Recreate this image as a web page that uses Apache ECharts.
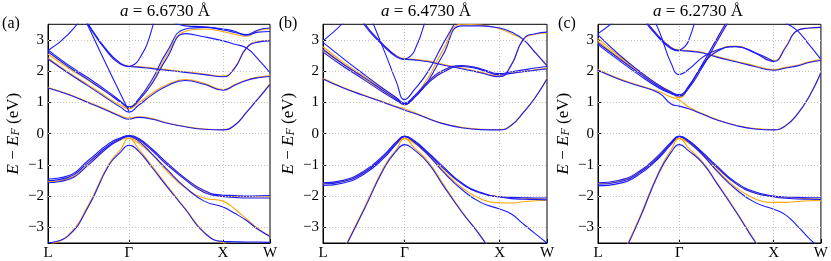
<!DOCTYPE html>
<html><head><meta charset="utf-8">
<script src="https://cdn.jsdelivr.net/npm/echarts@6/dist/echarts.min.js"></script>
<style>html,body{margin:0;padding:0;background:#fff}#c{width:831px;height:261px}</style>
</head><body><div id="c"></div>
<script>
// ---- k-path and ticks ----
const kLabels = ['L', 'Γ', 'X', 'W'];
const kTicks = [0, 0.86, 1.86, 2.36];
const kSamples = [0, 0.215, 0.43, 0.645, 0.774, 0.86, 0.96, 1.11, 1.26, 1.46, 1.66, 1.86, 1.985, 2.11, 2.235, 2.36];
const energyTicks = [-3, -2, -1, 0, 1, 2, 3];
const latticeA = ['6.6730', '6.4730', '6.2730'];
const panelTags = ['(a)', '(b)', '(c)'];
const _ = '-';

// ---- panel (a) ----
const aV1 = [-1.45,-1.35,-0.85,-0.32,-0.13,-0.06,-0.15,-0.5,-0.92,-1.43,-1.82,-1.97,-1.98,-2.0,-1.99,-1.98];
const aV2 = [-1.5,-1.4,-0.92,-0.37,-0.15,-0.08,-0.18,-0.55,-0.98,-1.48,-1.88,-2.01,-2.04,-2.06,-2.06,-2.06];
const aV3 = [-1.57,-1.47,-1.0,-0.42,-0.18,-0.09,-0.23,-0.66,-1.13,-1.72,-2.16,-2.35,-2.55,-2.78,-3.07,-3.29];
const aV4 = [-3.49,-3.27,-2.33,-1.02,-0.58,-0.37,-0.55,-1.1,-1.68,-2.42,-3.17,-3.45,-3.46,-3.47,-3.47,-3.48];
const aO1 = [-1.54,-1.44,-0.96,-0.4,-0.2,-0.14,-0.2,-0.55,-0.96,-1.46,-1.85,-2.0,-2.01,-2.02,-2.02,-2.02];
const aO2 = [_,_,_,_,_,-0.14,-0.29,-0.68,-1.19,-1.74,-2.06,-2.16,-2.41,-2.73,-3.04,-3.27];
const aO3 = [-3.56,-3.25,-2.28,-0.98,-0.5,-0.14,-0.48,-1.05,-1.64,-2.4,-3.15,-3.5,-3.56,-3.57,-3.57,-3.57];
const aC1 = [1.46,1.25,0.99,0.72,0.54,0.46,0.52,0.46,0.34,0.22,0.14,0.12,0.27,0.68,1.12,1.58];
const aC2 = [2.39,1.94,1.52,1.09,0.84,0.69,0.9,1.25,1.52,1.7,1.58,1.39,1.55,1.7,1.79,1.83];
const aC3 = [2.62,2.15,1.72,1.28,1.0,0.86,1.1,1.75,2.6,3.35,3.4,3.32,3.24,3.17,3.32,3.38];
const aC4 = [2.68,2.2,1.78,1.33,1.03,0.84,1.05,1.62,2.4,3.2,3.1,2.97,2.86,2.74,2.38,1.95];
const aC5 = [6.0,4.6,3.5,2.6,2.25,2.15,2.13,2.08,2.03,1.96,1.89,1.82,2.1,2.74,2.93,2.97];
const aC5b = [6.0,4.6,3.46,2.56,2.22,2.14,_,_,_,_,_,_,_,_,_,_];
const aC6 = [_,_,_,_,_,2.15,2.34,3.4,5.4,_,_,_,_,_,_,_];
const aC7 = [6.1,4.8,3.42,2.05,1.25,0.72,_,_,_,_,_,_,_,_,_,_];
const aC8 = [2.66,3.18,4.0,_,_,_,_,_,_,_,_,_,_,_,_,_];
const aC9 = [_,_,_,_,_,_,_,_,3.7,3.45,3.42,3.35,3.28,3.15,3.25,3.27];
const aOC1 = [1.48,1.27,1.01,0.74,0.57,0.5,0.54,0.48,0.35,0.23,0.15,0.13,0.28,0.69,1.13,1.6];
const aOC2 = [2.42,1.97,1.56,1.13,0.9,0.8,0.98,1.3,1.56,1.73,1.61,1.41,1.57,1.72,1.81,1.85];
const aOC3 = [2.55,2.1,1.7,1.27,1.0,0.8,1.05,1.65,2.5,3.28,3.35,3.27,3.18,3.12,3.3,3.36];
const aOC5 = [6.0,4.6,3.48,2.58,2.24,2.17,2.15,2.1,2.05,1.98,1.91,1.84,2.12,2.76,2.95,2.99];

// ---- panel (b) ----
const bV1 = [-1.57,-1.49,-1.2,-0.67,-0.26,-0.08,-0.22,-0.61,-1.04,-1.57,-1.88,-2.02,-2.04,-2.05,-2.06,-2.06];
const bV2 = [-1.61,-1.53,-1.25,-0.72,-0.3,-0.09,-0.24,-0.64,-1.08,-1.6,-1.9,-2.03,-2.08,-2.1,-2.11,-2.12];
const bV3 = [-1.66,-1.58,-1.3,-0.77,-0.33,-0.1,-0.27,-0.69,-1.2,-1.78,-2.2,-2.41,-2.57,-2.89,-3.2,-3.5];
const bV4 = [-5.0,-3.75,-2.45,-1.1,-0.55,-0.35,-0.52,-0.95,-1.63,-2.5,-3.28,-4.2,_,_,_,_];
const bO1 = [-1.6,-1.52,-1.23,-0.72,-0.33,-0.15,-0.28,-0.66,-1.1,-1.6,-1.9,-2.02,-2.05,-2.07,-2.08,-2.1];
const bO2 = [_,_,_,_,_,-0.15,-0.3,-0.7,-1.17,-1.72,-2.08,-2.21,-2.22,-2.18,-2.15,-2.13];
const bO3 = [-5.0,-3.72,-2.4,-1.05,-0.5,-0.15,-0.45,-0.9,-1.58,-2.48,-3.26,-4.2,_,_,_,_];
const bC1 = [1.75,1.46,1.22,0.99,0.85,0.75,0.65,0.48,0.32,0.19,0.13,0.12,0.27,0.67,1.15,1.75];
const bC2 = [2.61,2.15,1.73,1.3,1.06,0.93,1.15,1.62,1.96,2.15,2.05,1.88,1.93,1.98,2.03,2.07];
const bC3 = [2.7,2.22,1.8,1.36,1.1,0.96,1.15,1.7,2.5,3.45,3.45,3.38,3.25,3.02,2.6,2.18];
const bC4 = [2.92,2.4,1.9,1.42,1.15,0.98,1.2,1.68,2.02,2.18,2.08,1.92,1.98,2.04,2.1,2.15];
const bC5 = [6.5,4.6,3.55,2.82,2.48,2.38,2.36,2.3,2.2,2.08,1.95,1.82,2.2,3.02,3.2,3.25];
const bC5b = [6.5,4.6,3.5,2.78,2.45,2.37,_,_,_,_,_,_,_,_,_,_];
const bC6 = [_,_,_,_,_,2.38,2.63,3.95,5.5,_,_,_,_,_,_,_];
const bC7 = [7.0,5.5,4.2,2.65,1.65,1.09,1.4,2.0,2.85,3.9,_,_,_,_,_,_];
const bC8 = [2.97,3.55,4.3,_,_,_,_,_,_,_,_,_,_,_,_,_];
const bOC1 = [1.77,1.48,1.24,1.01,0.87,0.8,0.68,0.49,0.33,0.2,0.14,0.13,0.28,0.68,1.16,1.77];
const bOC2 = [2.66,2.2,1.77,1.34,1.08,0.92,1.18,1.65,1.98,2.17,2.07,1.9,1.94,1.99,2.04,2.09];
const bOC3 = [2.78,2.28,1.84,1.4,1.12,0.93,1.18,1.8,2.65,3.5,3.48,3.36,3.2,3.0,2.6,2.15];
const bOC5 = [6.5,4.6,3.55,2.82,2.5,2.4,2.38,2.32,2.22,2.1,1.97,1.84,2.22,3.0,3.18,3.22];

// ---- panel (c) ----
const cV1 = [-1.57,-1.5,-1.22,-0.68,-0.27,-0.08,-0.22,-0.61,-1.04,-1.56,-1.86,-2.0,-2.03,-2.04,-2.05,-2.05];
const cV2 = [-1.62,-1.55,-1.27,-0.74,-0.3,-0.09,-0.24,-0.64,-1.08,-1.6,-1.9,-2.02,-2.07,-2.09,-2.1,-2.11];
const cV3 = [-1.67,-1.6,-1.32,-0.78,-0.34,-0.1,-0.27,-0.69,-1.2,-1.78,-2.2,-2.42,-2.6,-2.95,-3.35,-3.7];
const cV4 = [-5.5,-4.2,-2.8,-1.25,-0.6,-0.35,-0.55,-0.95,-1.6,-2.5,-3.45,-4.3,_,_,_,_];
const cO1 = [-1.6,-1.53,-1.25,-0.72,-0.33,-0.15,-0.28,-0.66,-1.1,-1.6,-1.9,-2.02,-2.05,-2.07,-2.08,-2.1];
const cO2 = [_,_,_,_,_,-0.15,-0.3,-0.7,-1.17,-1.72,-2.08,-2.2,-2.2,-2.17,-2.15,-2.14];
const cO3 = [-5.5,-4.15,-2.75,-1.2,-0.52,-0.15,-0.47,-0.92,-1.57,-2.47,-3.42,-4.3,_,_,_,_];
const cC1 = [2.03,1.75,1.53,1.3,0.95,0.88,0.8,0.62,0.44,0.26,0.15,0.12,0.25,0.62,1.18,1.95];
const cC2 = [2.85,2.36,1.89,1.46,1.28,1.22,1.45,2.15,2.95,4.0,_,_,_,_,_,_];
const cC3 = [2.9,2.42,1.95,1.5,1.3,1.2,1.5,2.2,2.63,2.79,2.58,2.31,2.75,3.3,3.38,3.4];
const cC4 = [3.16,2.55,2.02,1.55,1.33,1.25,1.52,2.25,3.05,4.1,_,_,_,_,_,_];
const cC5 = [7.0,5.2,3.95,3.1,2.75,2.66,2.64,2.58,2.45,2.3,2.15,2.03,2.1,2.17,2.28,2.34];
const cC5b = [7.0,5.2,3.9,3.06,2.72,2.65,_,_,_,_,_,_,_,_,_,_];
const cC6 = [_,_,_,_,_,2.66,2.98,4.7,_,_,_,_,_,_,_,_];
const cC7 = [7.5,6.0,4.7,3.3,2.25,1.89,2.06,2.45,2.68,2.78,2.6,2.32,_,_,_,_];
const cC8 = [3.2,3.7,4.3,_,_,_,_,_,_,_,_,_,_,_,_,_];
const cC9 = [_,_,_,_,_,_,_,_,_,_,4.2,3.8,3.55,3.3,2.85,2.38];
const cOC1 = [2.05,1.77,1.55,1.35,1.17,1.08,0.85,0.64,0.45,0.27,0.16,0.13,0.26,0.63,1.2,1.97];
const cOC2 = [3.05,2.5,2.0,1.55,1.35,1.15,1.5,2.2,2.65,2.8,2.6,2.33,2.78,3.3,3.38,3.4];
const cOC3 = [2.95,2.45,1.98,1.53,1.3,1.15,1.5,2.2,3.0,4.0,_,_,_,_,_,_];
const cOC5 = [7.0,5.2,3.95,3.12,2.77,2.68,2.66,2.6,2.47,2.32,2.17,2.05,2.12,2.19,2.3,2.37];

const panels = [
  {orange: [aO1,aO2,aO3,aOC1,aOC2,aOC3,aOC5], blue: [aV1,aV2,aV3,aV4,aC1,aC2,aC3,aC4,aC5,aC5b,aC6,aC7,aC8,aC9]},
  {orange: [bO1,bO2,bO3,bOC1,bOC2,bOC3,bOC5], blue: [bV1,bV2,bV3,bV4,bC1,bC2,bC3,bC4,bC5,bC5b,bC6,bC7,bC8]},
  {orange: [cO1,cO2,cO3,cOC1,cOC2,cOC3,cOC5], blue: [cV1,cV2,cV3,cV4,cC1,cC2,cC3,cC4,cC5,cC5b,cC6,cC7,cC8,cC9]}
];

const gridBoxes = [
  {left: 48, width: 222},
  {left: 323, width: 224},
  {left: 598, width: 224}
];
const FONT = 'Liberation Serif';
const titleCenters = [165, 426, 698];
const tagCenters = [11, 288, 567];

const grids = [], xAxes = [], yAxes = [], series = [], graphics = [];
gridBoxes.forEach((g, p) => {
  grids.push({left: g.left, width: g.width, top: 24.3, height: 220, show: true,
    borderColor: '#000', borderWidth: 1, backgroundColor: 'transparent'});
  xAxes.push({type: 'value', gridIndex: p, min: 0, max: 2.36,
    axisLine: {onZero: false, lineStyle: {color: '#000', width: 1}},
    axisTick: {show: true, inside: true, length: 4, customValues: kTicks, lineStyle: {color: '#000'}},
    axisLabel: {customValues: kTicks, color: '#000', fontFamily: FONT, fontSize: 15, margin: 3,
      formatter: v => { const i = kTicks.findIndex(t => Math.abs(t - v) < 1e-6); return i >= 0 ? kLabels[i] : ''; }},
    splitLine: {show: false}});
  yAxes.push({type: 'value', gridIndex: p, min: -3.5, max: 3.5,
    axisLine: {onZero: false, lineStyle: {color: '#000', width: 1}},
    axisTick: {show: true, inside: true, length: 4, customValues: energyTicks, lineStyle: {color: '#000'}},
    axisLabel: {customValues: energyTicks, color: '#000', fontFamily: FONT, fontSize: 15, margin: 4,
      formatter: v => String(v).replace('-', '\u2212')},
    splitLine: {show: false},
    name: '{it|E} \u2212 {it|E}{sub|F} (eV)', nameLocation: 'middle', nameRotate: 90, nameGap: 26,
    nameTextStyle: {color: '#000', fontFamily: FONT, fontSize: 17,
      rich: {it: {fontStyle: 'italic', fontFamily: FONT, fontSize: 17, color: '#000'},
             sub: {fontStyle: 'italic', fontFamily: FONT, fontSize: 12, color: '#000', verticalAlign: 'bottom'}}}});
  // grid lines (dotted)
  series.push({type: 'line', xAxisIndex: p, yAxisIndex: p, data: [], z: 1, silent: true,
    markLine: {silent: true, symbol: 'none', label: {show: false}, animation: false,
      lineStyle: {color: '#c4c4c4', type: [1, 2], width: 1},
      data: energyTicks.map(v => ({yAxis: v})).concat(kTicks.slice(1, 3).map(v => ({xAxis: v})))}});
  const mk = (arr, color, z) => ({type: 'line', xAxisIndex: p, yAxisIndex: p, z: z,
    data: kSamples.map((k, i) => [k, arr[i]]), smooth: 0.5,
    showSymbol: false, symbol: 'none', connectNulls: false, clip: true, silent: true, animation: false,
    lineStyle: {color: color, width: 1.1}});
  panels[p].orange.forEach(b => series.push(mk(b, '#ffa500', 2)));
  panels[p].blue.forEach(b => series.push(mk(b, '#1a1aff', 3)));
  graphics.push({type: 'text', x: titleCenters[p], y: 12,
    style: {text: '{it|a} = ' + latticeA[p] + ' \u00c5', align: 'center', verticalAlign: 'middle',
      fontFamily: FONT, fontSize: 17, fill: '#000',
      rich: {it: {fontStyle: 'italic', fontFamily: FONT, fontSize: 17, fill: '#000'}}}});
  graphics.push({type: 'text', x: tagCenters[p], y: 24,
    style: {text: panelTags[p], align: 'center', verticalAlign: 'middle', fontFamily: FONT, fontSize: 16, fill: '#000'}});
});

const chart = echarts.init(document.getElementById('c'), null, {renderer: 'canvas'});
chart.setOption({animation: false, grid: grids, xAxis: xAxes, yAxis: yAxes, series: series, graphic: graphics});
</script></body></html>
